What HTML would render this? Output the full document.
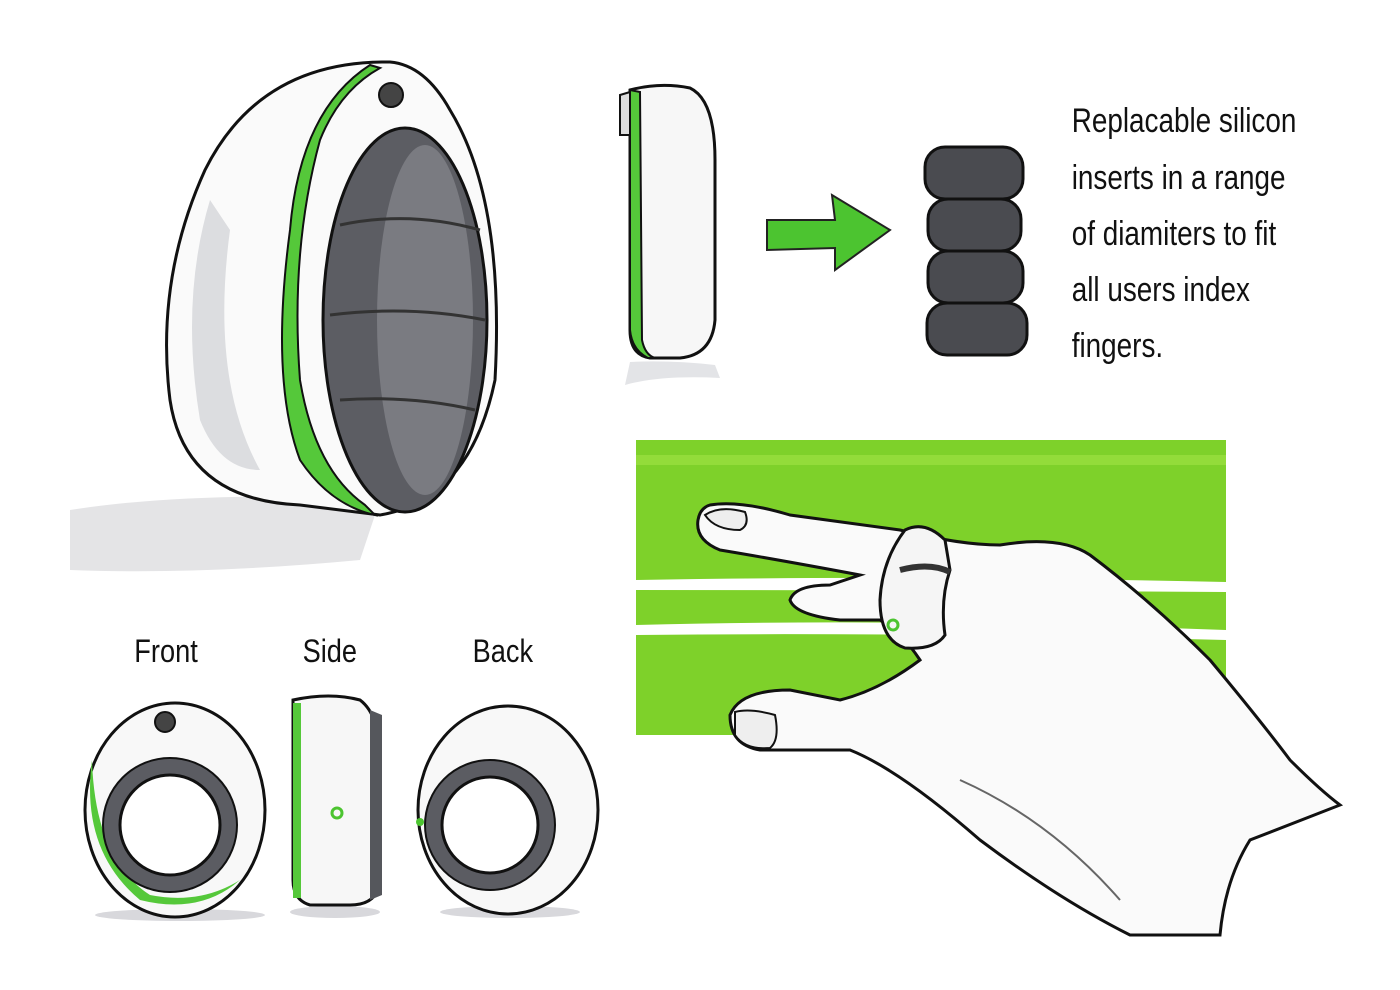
<!DOCTYPE html>
<html><head><meta charset="utf-8"><style>
html,body{margin:0;padding:0;background:#fff;}
svg{display:block;}
text{font-family:"Liberation Sans",sans-serif;fill:#111;}
</style></head><body>
<svg width="1400" height="990" viewBox="0 0 1400 990" xmlns="http://www.w3.org/2000/svg">
<rect width="1400" height="990" fill="#fff"/>
<!-- shadow big ring -->
<path d="M70 510 Q200 490 380 500 L360 560 Q200 575 70 570 Z" fill="#e4e4e6"/>
<!-- big ring -->
<path d="M390 62 Q260 60 205 170 Q155 280 170 400 Q185 500 300 505 L380 515 Q470 500 495 380 Q505 200 450 110 Q425 65 390 62 Z" fill="#fafafa" stroke="#111" stroke-width="3"/>
<path d="M210 200 Q180 300 200 420 Q220 470 260 470 Q210 380 230 230 Z" fill="#dcdde0"/>
<path d="M370 65 Q300 110 290 230 Q270 380 300 460 Q330 505 375 515 L365 505 Q315 470 300 380 Q290 250 320 140 Q340 90 380 68 Z" fill="#55c83a" stroke="#111" stroke-width="2"/>
<ellipse cx="405" cy="320" rx="82" ry="192" fill="#5c5d63" stroke="#111" stroke-width="3"/>
<ellipse cx="425" cy="320" rx="48" ry="175" fill="#7a7b81"/>
<g stroke="#333" stroke-width="3" fill="none">
<path d="M340 225 Q410 210 480 230"/><path d="M330 315 Q410 305 485 320"/><path d="M340 400 Q410 395 475 410"/>
</g>
<circle cx="391" cy="95" r="12" fill="#444" stroke="#111" stroke-width="2"/>
<!-- side view top -->
<path d="M625 385 Q660 375 720 378 L715 365 Q670 360 630 362 Z" fill="#e3e4e7"/>
<path d="M630 90 Q660 82 690 88 Q715 100 715 160 L715 320 Q712 355 680 358 L650 358 Q630 355 630 330 Z" fill="#f7f7f7" stroke="#111" stroke-width="3"/>
<path d="M630 90 L640 92 L642 340 Q645 355 655 358 L648 358 Q632 350 630 330 Z" fill="#55c83a" stroke="#111" stroke-width="2"/>
<path d="M620 95 L630 92 L630 135 L620 135 Z" fill="#ddd" stroke="#111" stroke-width="2"/>
<!-- arrow -->
<path d="M767 220 L835 220 L832 195 L890 230 L835 270 L835 248 L767 250 Z" fill="#4cc430" stroke="#222" stroke-width="2"/>
<!-- insert -->
<g fill="#4a4b50" stroke="#111" stroke-width="3">
<rect x="925" y="147" width="98" height="52" rx="20"/>
<rect x="928" y="199" width="93" height="52" rx="20"/>
<rect x="928" y="251" width="95" height="52" rx="20"/>
<rect x="927" y="303" width="100" height="52" rx="20"/>
</g>
<!-- text -->
<g font-size="34" transform="scale(0.82,1)">
<text x="1307" y="132">Replacable silicon</text>
<text x="1307" y="189">inserts in a range</text>
<text x="1307" y="245">of diamiters to fit</text>
<text x="1307" y="301">all users index</text>
<text x="1307" y="357">fingers.</text>
</g>
<!-- green rectangle -->
<rect x="636" y="440" width="590" height="295" fill="#7ed12a"/>
<rect x="636" y="455" width="590" height="10" fill="#93dc3a"/>
<path d="M636 580 Q900 575 1226 582 L1226 592 Q900 590 636 590 Z" fill="#fff"/>
<path d="M636 625 Q900 618 1226 630 L1226 640 Q900 632 636 635 Z" fill="#fff"/>
<!-- hand -->
<path d="M710 505 Q740 500 790 515 L900 530 Q960 545 1000 545 Q1060 535 1090 555 Q1150 600 1210 660 Q1260 720 1290 760 Q1320 790 1340 805 L1250 840 Q1225 880 1220 935 L1130 935 Q1060 900 980 840 Q900 770 850 750 Q790 750 760 750 Q730 745 730 715 Q740 690 790 690 L840 700 Q880 690 920 660 Q900 630 880 620 L840 620 Q795 615 790 600 Q795 585 830 585 L860 575 Q780 560 720 550 Q695 540 698 520 Q700 508 710 505 Z" fill="#fafafa" stroke="#111" stroke-width="3"/>
<path d="M705 515 Q720 505 745 512 Q750 525 740 530 Q715 530 705 515 Z" fill="#eee" stroke="#111" stroke-width="2"/>
<path d="M735 712 Q750 708 775 715 Q780 740 770 748 Q745 750 735 735 Z" fill="#eee" stroke="#111" stroke-width="2"/>
<path d="M960 780 Q1050 820 1120 900" stroke="#666" stroke-width="2" fill="none"/>
<!-- small ring on finger -->
<path d="M905 530 Q925 520 945 540 L950 570 Q940 600 945 635 Q935 650 905 648 Q880 640 880 600 Q882 560 905 530 Z" fill="#f5f5f5" stroke="#111" stroke-width="3"/>
<path d="M900 570 Q930 562 950 572" stroke="#333" stroke-width="6" fill="none"/>
<circle cx="893" cy="625" r="5" fill="none" stroke="#4cc430" stroke-width="3"/>
<!-- labels bottom -->
<g font-size="32" transform="scale(0.85,1)">
<text x="158" y="662">Front</text>
<text x="356" y="662">Side</text>
<text x="556" y="662">Back</text>
</g>
<!-- shadows bottom -->
<ellipse cx="180" cy="915" rx="85" ry="6" fill="#d8d8dc"/>
<ellipse cx="335" cy="912" rx="45" ry="6" fill="#d8d8dc"/>
<ellipse cx="510" cy="912" rx="70" ry="6" fill="#d8d8dc"/>
<!-- front -->
<ellipse cx="175" cy="810" rx="90" ry="107" fill="#f8f8f8" stroke="#111" stroke-width="3"/>
<path d="M92 760 Q80 850 140 900 Q200 915 240 880 Q200 905 150 895 Q95 860 92 760 Z" fill="#55c83a"/>
<circle cx="170" cy="825" r="67" fill="#5b5c62" stroke="#111" stroke-width="2"/>
<circle cx="170" cy="825" r="50" fill="#fff" stroke="#111" stroke-width="3"/>
<circle cx="165" cy="722" r="10" fill="#444" stroke="#111" stroke-width="2"/>
<!-- side -->
<path d="M293 700 Q330 692 360 700 Q380 715 380 760 L380 880 Q378 905 350 905 L310 905 Q293 900 293 880 Z" fill="#f7f7f7" stroke="#111" stroke-width="3"/>
<rect x="293" y="703" width="8" height="195" fill="#55c83a"/>
<path d="M370 710 L382 715 L382 895 L370 900 Z" fill="#55575c"/>
<circle cx="337" cy="813" r="5" fill="none" stroke="#4cc430" stroke-width="3"/>
<!-- back -->
<ellipse cx="508" cy="810" rx="90" ry="104" fill="#f8f8f8" stroke="#111" stroke-width="3"/>
<circle cx="490" cy="825" r="65" fill="#5b5c62" stroke="#111" stroke-width="2"/>
<circle cx="490" cy="825" r="48" fill="#fff" stroke="#111" stroke-width="3"/>
<circle cx="420" cy="822" r="4" fill="#4cc430"/>
</svg>
</body></html>
